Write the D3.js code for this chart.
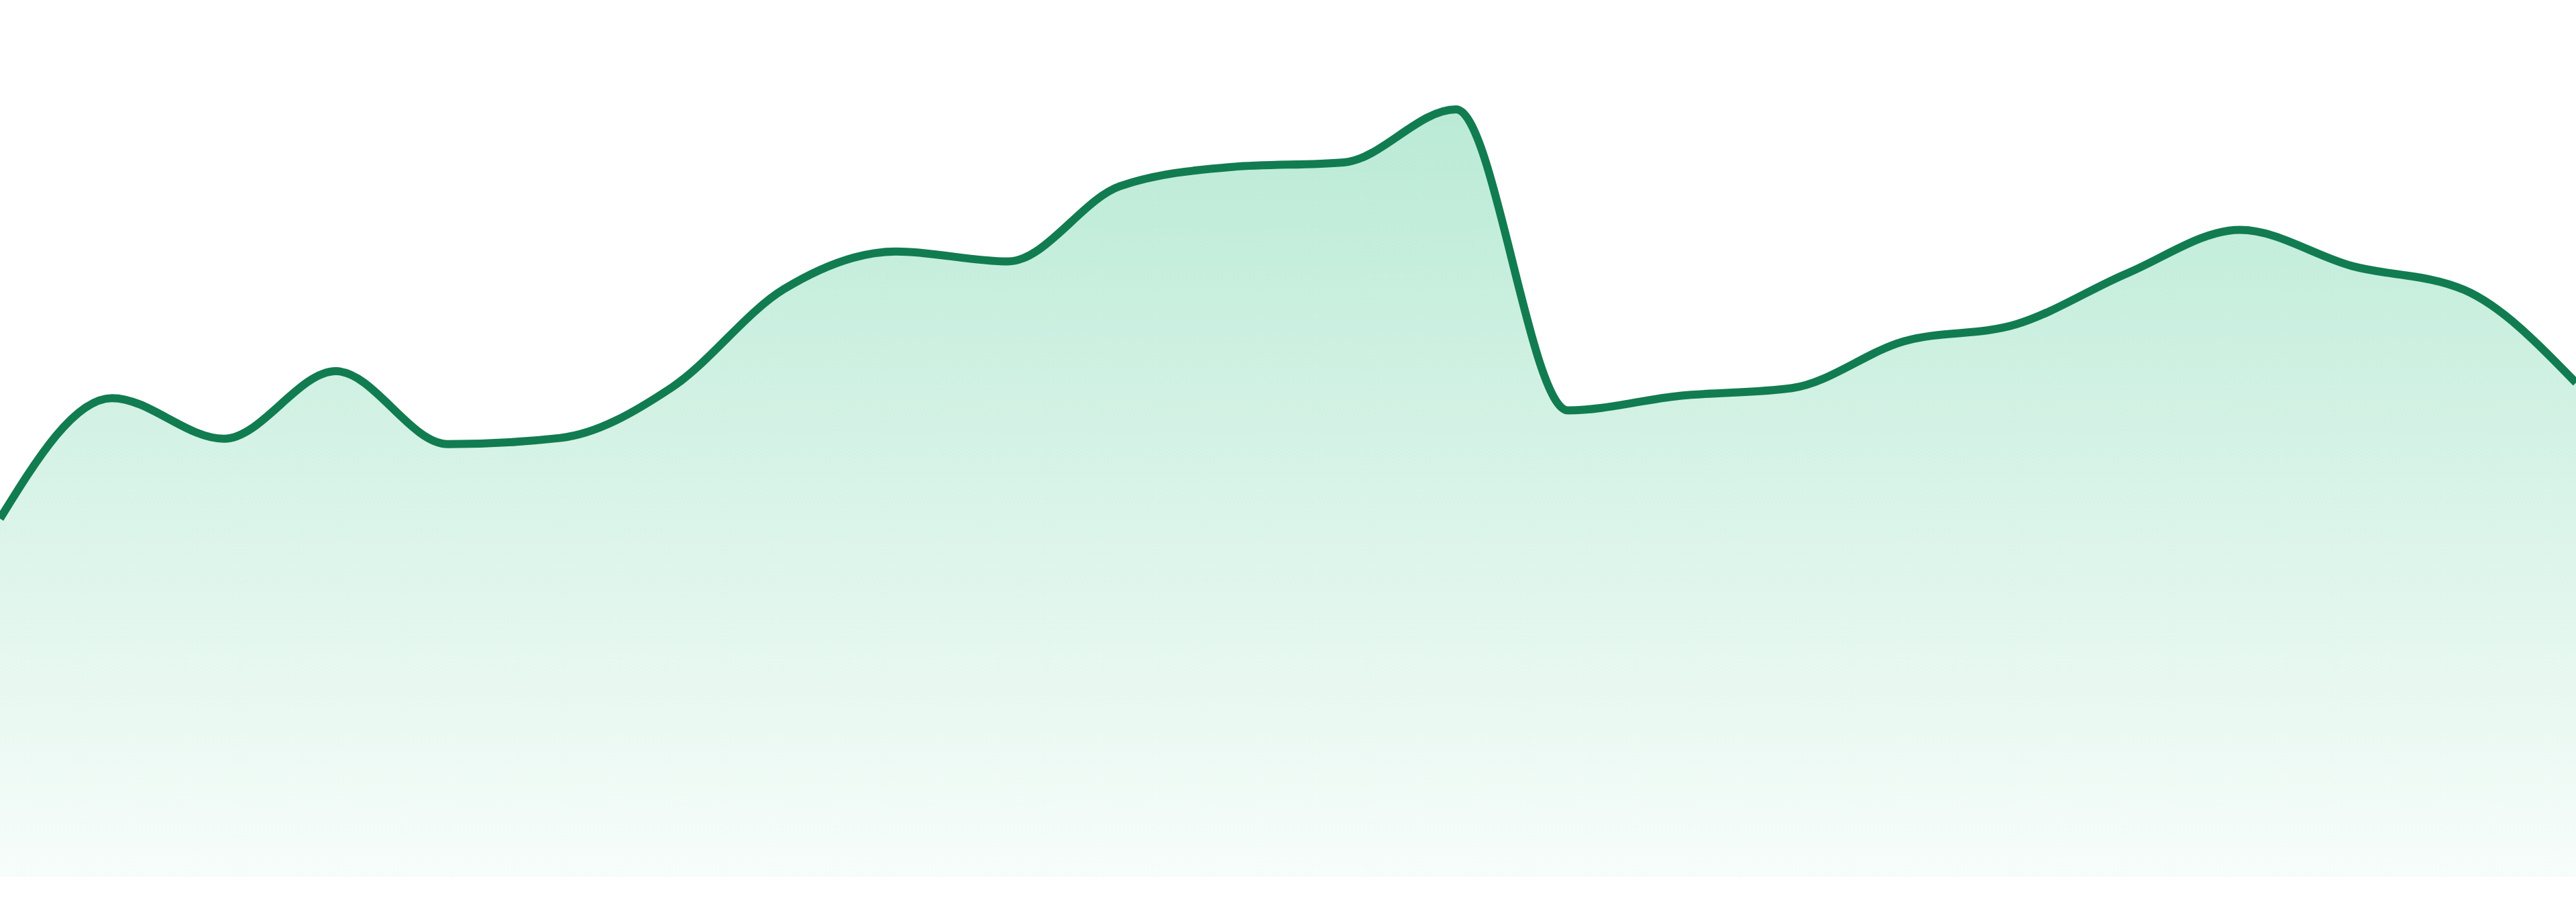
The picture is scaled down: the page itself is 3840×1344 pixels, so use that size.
<!DOCTYPE html>
<html>
<head>
<meta charset="utf-8">
<script src="https://cdn.jsdelivr.net/npm/d3@7"></script>
<style>
  html, body { margin: 0; padding: 0; background: #ffffff; }
  svg { display: block; }
</style>
</head>
<body>
<div id="chart"></div>
<script>
// data
var days = ["01","02","03","04","05","06","07","08","09","10","11","12",
            "13","14","15","16","17","18","19","20","21","22","23","24"];
var values = [46.7, 62.4, 57.1, 65.9, 56.4, 57.2, 63.8, 76.6, 81.5, 80.2, 90.0, 92.5,
              93.1, 100, 60.8, 62.7, 63.7, 69.8, 72.0, 78.7, 84.3, 79.6, 76.5, 64.4];

//Config
var chartWidth = 3840, chartHeight = 1344;
var baseY = 1307, peakY = 163;
var lineColor = "#127c51";
var fillColor = "#34c285";

var data = days.map(function(d, i) { return {day: d, val: values[i]}; });

var x = d3.scalePoint().domain(days).range([0, chartWidth]);
var y = d3.scaleLinear().domain([0, 100]).range([baseY, peakY]);

var svg = d3.select("#chart").append("svg")
  .attr("width", chartWidth)
  .attr("height", chartHeight);

var grad = svg.append("defs").append("linearGradient")
  .attr("id", "fillGrad")
  .attr("x1", 0).attr("y1", 0)
  .attr("x2", 0).attr("y2", 1);
grad.append("stop").attr("offset", "0%")
  .attr("stop-color", fillColor).attr("stop-opacity", 0.34);
grad.append("stop").attr("offset", "100%")
  .attr("stop-color", fillColor).attr("stop-opacity", 0.04);

var area = d3.area()
  .curve(d3.curveMonotoneX)
  .x(function(d) { return x(d.day); })
  .y0(y(0))
  .y1(function(d) { return y(d.val); });

var line = d3.line()
  .curve(d3.curveMonotoneX)
  .x(function(d) { return x(d.day); })
  .y(function(d) { return y(d.val); });

svg.append("path")
  .datum(data)
  .attr("fill", "url(#fillGrad)")
  .attr("d", area);

svg.append("path")
  .datum(data)
  .attr("fill", "none")
  .attr("stroke", lineColor)
  .attr("stroke-width", 12)
  .attr("stroke-linejoin", "round")
  .attr("d", line);
</script>
</body>
</html>
